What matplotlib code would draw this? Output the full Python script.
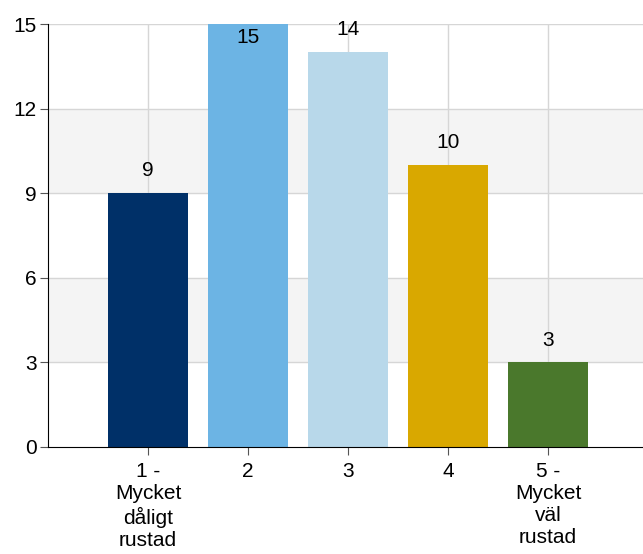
import numpy as np
import matplotlib.pyplot as plt

plt.rcParams['font.family'] = ['Liberation Sans', 'DejaVu Sans']

# Svarsfördelning
categories = ["1 -\nMycket\ndåligt\nrustad", "2", "3", "4", "5 -\nMycket\nväl\nrustad"]
counts = [9, 15, 14, 10, 3]
colors = ["#003068", "#6cb4e4", "#b8d8ea", "#d9a800", "#4a782c"]
yticks = [0, 3, 6, 9, 12, 15]
bands = [(3, 6), (9, 12)]

fig = plt.figure(figsize=(6.43, 5.54), dpi=100)
ax = fig.add_axes([48 / 643, 107 / 554, 1 - 48 / 643, 423 / 554])

x = np.arange(len(categories))
ymax = yticks[-1]

# grå bakgrundsband
for lo, hi in bands:
    ax.axhspan(lo, hi, facecolor="#f4f4f4", zorder=0, lw=0)

for yv in yticks[1:]:
    ax.axhline(yv, color="#d6d6d6", lw=1, zorder=1)
for xv in x:
    ax.axvline(xv, color="#d6d6d6", lw=1, zorder=1)

ax.bar(x, counts, width=0.8, color=colors, zorder=2)

for xi, v in zip(x, counts):
    dy = -10 if v >= ymax else 16
    ax.annotate(str(v), (xi, v), xytext=(0, dy), textcoords="offset points",
                ha="center", va="center", fontsize=15, zorder=3)

ax.set_xlim(-1, 4.95)
ax.set_ylim(0, ymax)
ax.set_yticks(yticks)
ax.set_xticks(x)
ax.set_xticklabels(categories, fontsize=15, linespacing=1.2)
ax.tick_params(axis="y", labelsize=15, length=6, color="#555555", pad=2)
ax.tick_params(axis="x", length=6, color="#555555", pad=5)

for s in ["top", "right"]:
    ax.spines[s].set_visible(False)
ax.spines["left"].set_color("black")
ax.spines["bottom"].set_color("black")

fig.savefig("out.png", dpi=100)
